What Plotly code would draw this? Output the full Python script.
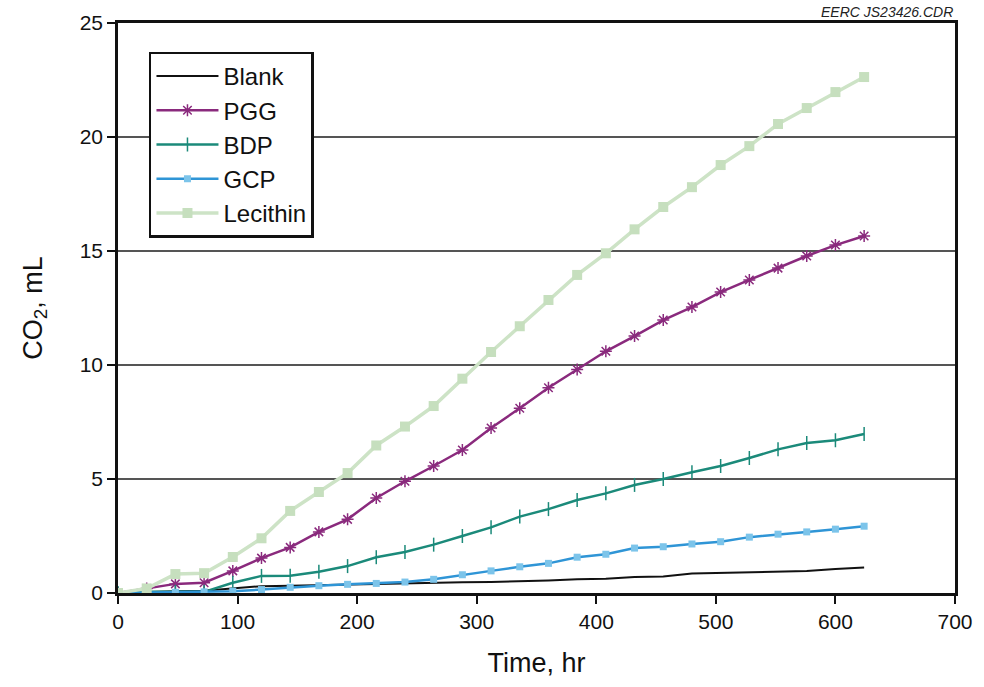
import plotly.graph_objects as go

time_hr = [0, 24, 48, 72, 96, 120, 144, 168, 192, 216, 240, 264, 288, 312,
           336, 360, 384, 408, 432, 456, 480, 504, 528, 552, 576, 600, 624]

blank = [0, 0.05, 0.08, 0.1, 0.2, 0.3, 0.32, 0.35, 0.37, 0.4, 0.42, 0.45, 0.47, 0.48,
         0.5, 0.55, 0.6, 0.62, 0.7, 0.72, 0.85, 0.88, 0.92, 0.95, 0.96, 1.05, 1.12]
pgg = [0, 0.2, 0.4, 0.45, 0.97, 1.53, 2.0, 2.68, 3.23, 4.17, 4.9, 5.57, 6.27, 7.24,
       8.1, 9.0, 9.8, 10.6, 11.27, 11.97, 12.54, 13.2, 13.73, 14.25, 14.78, 15.26, 15.66]
bdp = [0, 0.05, 0.05, 0.05, 0.45, 0.75, 0.76, 0.93, 1.18, 1.57, 1.8, 2.12, 2.5, 2.88,
       3.35, 3.68, 4.08, 4.37, 4.74, 5.0, 5.3, 5.57, 5.92, 6.3, 6.58, 6.7, 6.97]
gcp = [0, 0.02, 0.03, 0.05, 0.08, 0.15, 0.25, 0.32, 0.38, 0.42, 0.48, 0.6, 0.8, 0.97,
       1.15, 1.3, 1.57, 1.7, 1.97, 2.03, 2.15, 2.25, 2.45, 2.58, 2.68, 2.8, 2.93]
lecithin = [0, 0.2, 0.83, 0.87, 1.58, 2.4, 3.6, 4.43, 5.26, 6.47, 7.3, 8.2, 9.4, 10.57,
            11.7, 12.85, 13.95, 14.9, 15.95, 16.93, 17.8, 18.77, 19.6, 20.57, 21.27, 21.97, 22.63]

fig = go.Figure()
fig.add_trace(go.Scatter(x=time_hr, y=blank, name="Blank", mode="lines",
                         line=dict(color="#111111", width=2)))
fig.add_trace(go.Scatter(x=time_hr, y=pgg, name="PGG", mode="lines+markers",
                         line=dict(color="#8a2a7d", width=2.5),
                         marker=dict(symbol="asterisk-open", size=10,
                                     line=dict(color="#8a2a7d", width=1.5))))
fig.add_trace(go.Scatter(x=time_hr, y=bdp, name="BDP", mode="lines+markers",
                         line=dict(color="#1b8a7a", width=2.5),
                         marker=dict(symbol="line-ns-open", size=10,
                                     line=dict(color="#1b8a7a", width=1.5))))
fig.add_trace(go.Scatter(x=time_hr, y=gcp, name="GCP", mode="lines+markers",
                         line=dict(color="#2f95d6", width=2.5),
                         marker=dict(symbol="square", size=7, color="#7cc4ea",
                                     line=dict(width=0))))
fig.add_trace(go.Scatter(x=time_hr, y=lecithin, name="Lecithin", mode="lines+markers",
                         line=dict(color="#cde3c6", width=3.5),
                         marker=dict(symbol="square", size=10, color="#c6dfbe",
                                     line=dict(width=0))))

fig.update_layout(
    width=984, height=687,
    margin=dict(l=118, r=29, t=23, b=94),
    paper_bgcolor="white", plot_bgcolor="white",
    font=dict(family="Liberation Sans, Arial, sans-serif", color="#111111", size=21),
    showlegend=True,
    legend=dict(x=0.037, y=0.95, xanchor="left", yanchor="top",
                bgcolor="white", bordercolor="#111111", borderwidth=2.5,
                font=dict(size=24), tracegroupgap=0, itemwidth=62),
    xaxis=dict(range=[0, 700], tickvals=[0, 100, 200, 300, 400, 500, 600, 700],
               showgrid=False, zeroline=False, showline=True, linecolor="#111111",
               linewidth=2.5, mirror=True, ticks="outside", ticklen=8, tickwidth=2,
               tickcolor="#111111", tickfont=dict(size=21),
               title=dict(text="Time, hr", font=dict(size=27), standoff=22)),
    yaxis=dict(range=[0, 25], tickvals=[0, 5, 10, 15, 20, 25],
               showgrid=True, gridcolor="#555555", gridwidth=1.5, zeroline=False,
               showline=True, linecolor="#111111", linewidth=2.5, mirror=True,
               ticks="outside", ticklen=8, tickwidth=2, tickcolor="#111111",
               tickfont=dict(size=21),
               title=dict(text="CO<sub>2</sub>, mL", font=dict(size=27), standoff=30)),
    annotations=[dict(text="<i>EERC JS23426.CDR</i>", xref="paper", yref="paper",
                      x=1.0, y=1.0, xanchor="right", yanchor="bottom", yshift=1,
                      showarrow=False, font=dict(size=14, color="#222222"))],
)

fig.write_html("out.html")
